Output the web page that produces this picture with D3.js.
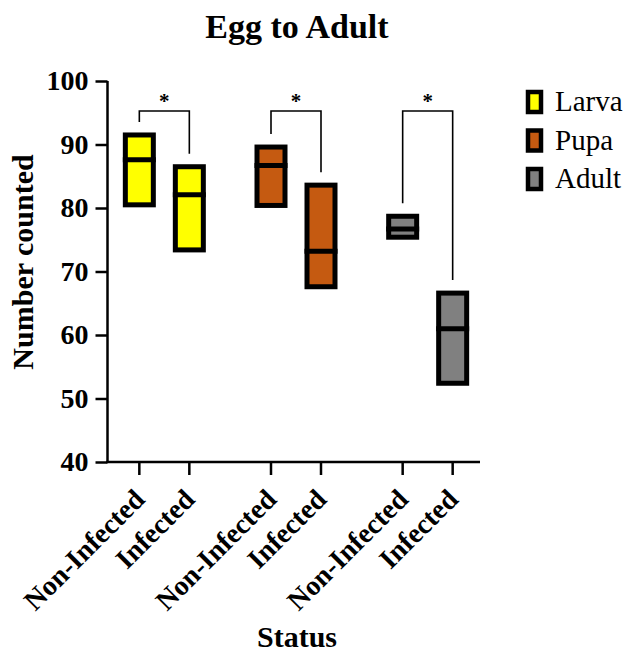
<!DOCTYPE html>
<html>
<head>
<meta charset="utf-8">
<script src="https://cdn.jsdelivr.net/npm/d3@7"></script>
<style>
  html, body { margin: 0; padding: 0; background: #fff; }
  svg { display: block; font-family: "Liberation Serif", "Times New Roman", serif; }
</style>
</head>
<body>
<svg id="chart" width="625" height="652"></svg>
<script>
// Life stages and infection status
const stages = ["Larva", "Pupa", "Adult"];
const statuses = ["Non-Infected", "Infected"];
const stageColors = ["#FFFF00", "#C55A11", "#808080"];

// Floating bars (min to max) with a line at the median, per stage x status
const maxValues = [[91.5, 86.5], [89.6, 83.6], [78.7, 66.6]];
const minValues = [[80.5, 73.4], [80.4, 67.6], [75.4, 52.4]];
const medianValues = [[87.6, 82.1], [86.7, 73.2], [76.7, 61.0]];
const significance = ["*", "*", "*"];

const yTicks = [40, 50, 60, 70, 80, 90, 100];

const svg = d3.select("#chart");

const plot = { left: 107.5, right: 480, top: 81, bottom: 462 };

const y = d3.scaleLinear().domain([40, 100]).range([plot.bottom, plot.top]);
const group = d3.scaleBand().domain(stages).range([98.5, 493.5]);
const sub = d3.scalePoint().domain(statuses).range([-25, 25]);
const xPos = (stage, status) => group(stage) + group.bandwidth() / 2 + sub(status);

const barW = 28;
const strokeW = 5;

// Title
svg.append("text")
  .attr("x", 297).attr("y", 38)
  .attr("text-anchor", "middle")
  .attr("font-weight", "bold")
  .attr("font-size", 34)
  .text("Egg to Adult");

// Y axis
const yAxis = svg.append("g")
  .attr("transform", `translate(${plot.left},0)`)
  .call(d3.axisLeft(y).tickValues(yTicks).tickSize(12).tickPadding(7).tickFormat(d3.format("d")));
yAxis.select(".domain").attr("stroke", "#000").attr("stroke-width", 2.5)
  .attr("d", `M0,${plot.top}V${plot.bottom}`);
yAxis.selectAll(".tick line").attr("stroke", "#000").attr("stroke-width", 2.5);
yAxis.selectAll(".tick text")
  .attr("font-family", "Liberation Serif, serif")
  .attr("font-weight", "bold")
  .attr("font-size", 28)
  .attr("fill", "#000");

// X axis
svg.append("line")
  .attr("x1", plot.left - 1.25).attr("x2", plot.right)
  .attr("y1", plot.bottom).attr("y2", plot.bottom)
  .attr("stroke", "#000").attr("stroke-width", 2.5);

const cells = [];
stages.forEach((stage, gi) => {
  statuses.forEach((status, si) => {
    cells.push({
      stage, status, gi, si,
      x: xPos(stage, status),
      max: maxValues[gi][si],
      min: minValues[gi][si],
      median: medianValues[gi][si],
      color: stageColors[gi]
    });
  });
});

const xTicks = svg.append("g");
xTicks.selectAll("line").data(cells).join("line")
  .attr("x1", d => d.x).attr("x2", d => d.x)
  .attr("y1", plot.bottom).attr("y2", plot.bottom + 13)
  .attr("stroke", "#000").attr("stroke-width", 2.5);
xTicks.selectAll("text").data(cells).join("text")
  .attr("transform", d => `translate(${d.x + 7},${plot.bottom + 39}) rotate(-45)`)
  .attr("text-anchor", "end")
  .attr("font-weight", "bold")
  .attr("font-size", 28)
  .text(d => d.status);

// X axis title
svg.append("text")
  .attr("x", 297).attr("y", 647)
  .attr("text-anchor", "middle")
  .attr("font-weight", "bold")
  .attr("font-size", 30)
  .text("Status");

// Y axis title
svg.append("text")
  .attr("transform", "translate(33,262) rotate(-90)")
  .attr("text-anchor", "middle")
  .attr("font-weight", "bold")
  .attr("font-size", 30)
  .text("Number counted");

// Floating bars
const bars = svg.append("g");
bars.selectAll("rect").data(cells).join("rect")
  .attr("x", d => d.x - barW / 2)
  .attr("width", barW)
  .attr("y", d => y(d.max))
  .attr("height", d => y(d.min) - y(d.max))
  .attr("fill", d => d.color)
  .attr("stroke", "#000")
  .attr("stroke-width", strokeW);
bars.selectAll("line").data(cells).join("line")
  .attr("x1", d => d.x - barW / 2 - strokeW / 2)
  .attr("x2", d => d.x + barW / 2 + strokeW / 2)
  .attr("y1", d => y(d.median)).attr("y2", d => y(d.median))
  .attr("stroke", "#000")
  .attr("stroke-width", strokeW);

// Significance brackets
const bracketY = 111;
const brackets = svg.append("g");
stages.forEach((stage, gi) => {
  const x1 = xPos(stage, statuses[0]);
  const x2 = xPos(stage, statuses[1]);
  const top1 = y(maxValues[gi][0]) - strokeW / 2 - 10.5;
  const top2 = y(maxValues[gi][1]) - strokeW / 2 - 10.5;
  brackets.append("path")
    .attr("d", `M${x1},${top1}V${bracketY}H${x2}V${top2}`)
    .attr("fill", "none")
    .attr("stroke", "#000")
    .attr("stroke-width", 1.6);
  brackets.append("text")
    .attr("x", (x1 + x2) / 2)
    .attr("y", bracketY - 3)
    .attr("text-anchor", "middle")
    .attr("font-weight", "bold")
    .attr("font-size", 21)
    .text(significance[gi]);
});

// Legend
const legend = svg.append("g");
stages.forEach((stage, i) => {
  const ly = 92 + i * 38.5;
  legend.append("rect")
    .attr("x", 528).attr("y", ly)
    .attr("width", 13).attr("height", 20)
    .attr("fill", stageColors[i])
    .attr("stroke", "#000")
    .attr("stroke-width", 4.5);
  legend.append("text")
    .attr("x", 555).attr("y", ly + 19)
    .attr("font-size", 29)
    .text(stage);
});
</script>
</body>
</html>
